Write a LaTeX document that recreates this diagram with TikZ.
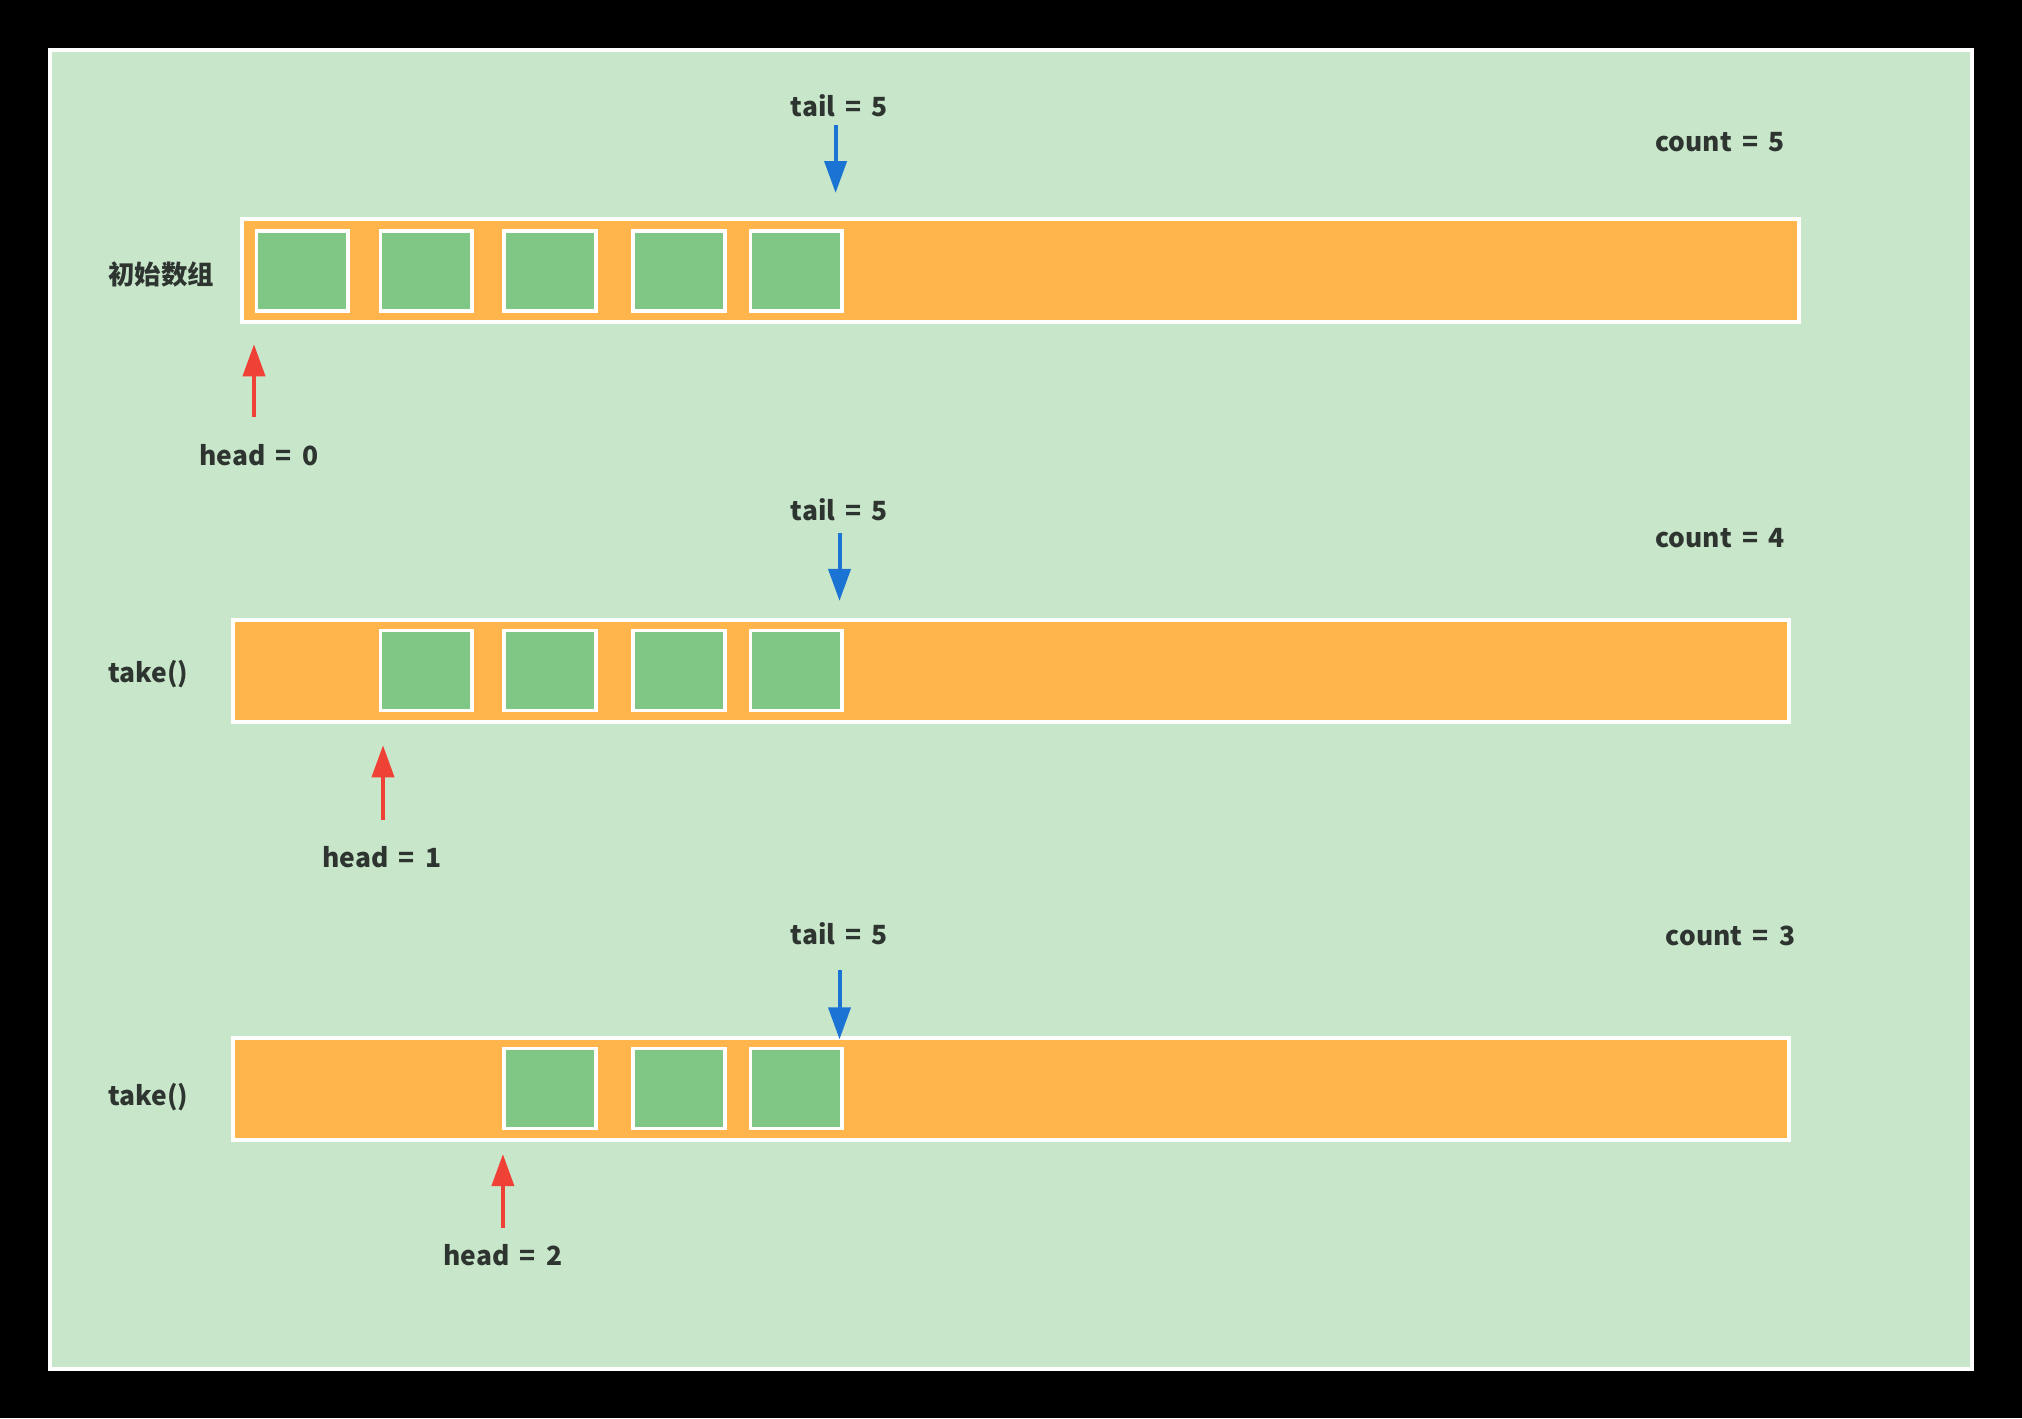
\documentclass[tikz,border=0pt]{standalone}
\usepackage{fontspec}
\setmainfont{Noto Sans CJK SC}[WordSpace=1.7]
\usetikzlibrary{arrows.meta}
\definecolor{panelgreen}{HTML}{C8E6CA}
\definecolor{arrorange}{HTML}{FFB54C}
\definecolor{cellgreen}{HTML}{80C785}
\definecolor{headred}{HTML}{EF4136}
\definecolor{tailblue}{HTML}{1B74D4}
\definecolor{txt}{HTML}{2E3530}
\tikzset{
  arraybox/.style={draw=white, line width=2pt, fill=arrorange},
  cellbox/.style={draw=white, line width=1.8pt, fill=cellgreen},
  lbl/.style={font=\fontsize{13.2}{15}\selectfont\bfseries, text=txt, inner sep=0pt},
  headarrow/.style={draw=headred, line width=2pt, -{Triangle[width=11pt,length=16pt]}},
  tailarrow/.style={draw=tailblue, line width=2pt, -{Triangle[width=11pt,length=16pt]}},
}
\begin{document}
\begin{tikzpicture}[x=0.5pt,y=-0.5pt]
\fill[black] (0,0) rectangle (2022,1418);
\useasboundingbox (0,0) rectangle (2022,1418);
\draw[draw=white, line width=2pt, fill=panelgreen] (50,50) rectangle (1972,1369);

% ---- row 1 ----
\draw[arraybox] (242,219) rectangle (1799,322);
\foreach \x in {256.6,380.4,504.2,633.1,750.5}
  \draw[cellbox] (\x,230.8) rectangle ++(91.6,80);
\node[lbl] (init) at (161,274.7) {初始数组};
\node[lbl] (tail1) at (839.5,105.7) {tail = 5};
\node[lbl] (count1) at (1720,141.8) {count = 5};
\node[lbl] (head1) at (259,455.2) {head = 0};
\coordinate (t1s) at (835.6,125);
\coordinate (t1e) at (835.6,193);
\coordinate (h1s) at (254,416.5);
\coordinate (h1e) at (254,344.3);
\draw[tailarrow] (t1s) -- (t1e);
\draw[headarrow] (h1s) -- (h1e);

% ---- row 2 ----
\draw[arraybox] (233.4,620.3) rectangle (1788.6,722.1);
\foreach \x in {380.4,504.2,633.1,750.5}
  \draw[cellbox] (\x,630.6) rectangle ++(91.6,80);
\node[lbl] (take1) at (148.3,674.4) {take()};
\node[lbl] (tail2) at (839.5,509.4) {tail = 5};
\node[lbl] (count2) at (1720,537.7) {count = 4};
\node[lbl] (head2) at (381.7,857.5) {head = 1};
\coordinate (t2s) at (839.5,532.6);
\coordinate (t2e) at (839.5,600.9);
\coordinate (h2s) at (383,820.1);
\coordinate (h2e) at (383,745.3);
\draw[tailarrow] (t2s) -- (t2e);
\draw[headarrow] (h2s) -- (h2e);

% ---- row 3 ----
\draw[arraybox] (233.4,1038) rectangle (1788.6,1140);
\foreach \x in {504.2,633.1,750.5}
  \draw[cellbox] (\x,1048.4) rectangle ++(91.6,80);
\node[lbl] (take2) at (148.3,1097.4) {take()};
\node[lbl] (tail3) at (839.5,933.6) {tail = 5};
\node[lbl] (count3) at (1730.5,936.2) {count = 3};
\node[lbl] (head3) at (502.9,1254.7) {head = 2};
\coordinate (t3s) at (839.5,969.7);
\coordinate (t3e) at (839.5,1039.3);
\coordinate (h3s) at (502.9,1227.6);
\coordinate (h3e) at (502.9,1154.1);
\draw[tailarrow] (t3s) -- (t3e);
\draw[headarrow] (h3s) -- (h3e);
\end{tikzpicture}
\end{document}
